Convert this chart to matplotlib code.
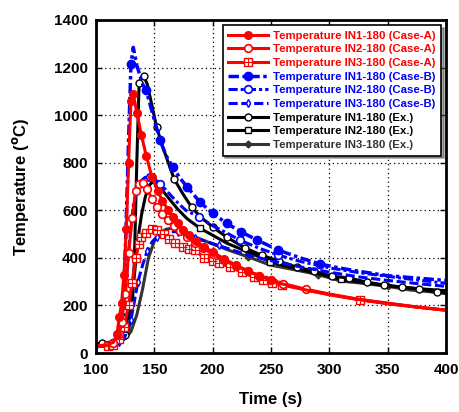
import matplotlib
matplotlib.use("Agg")
import matplotlib.pyplot as plt

plt.rcParams['font.family'] = ['Liberation Sans', 'DejaVu Sans']
plt.rcParams['font.weight'] = 'bold'

# ---- data (time s, temperature C) ----
t_a1 = [100, 105, 110, 115, 118, 120, 122, 124, 126, 128, 130, 132, 135, 139, 143, 148, 153, 157,
        162, 166, 170, 175, 180, 186, 193, 200, 210, 220, 230, 240, 250, 260, 280, 300, 325, 350, 375, 400]
T_a1 = [30, 32, 35, 45, 80, 150, 210, 330, 520, 800, 1060, 1090, 1010, 916, 830, 740, 680, 640,
        600, 573, 545, 517, 495, 470, 445, 425, 395, 370, 345, 325, 305, 290, 265, 245, 225, 210, 193, 180]

t_a2 = [100, 105, 110, 115, 120, 122, 125, 128, 131, 134, 137, 140, 144, 148, 152, 157, 162, 167,
        172, 178, 185, 192, 200, 210, 220, 230, 240, 250, 260, 280, 300, 325, 350, 375, 400]
T_a2 = [30, 30, 32, 40, 80, 130, 250, 420, 567, 680, 710, 714, 690, 647, 615, 584, 558, 535,
        512, 488, 462, 440, 415, 390, 365, 345, 325, 308, 292, 268, 248, 226, 208, 193, 180]

t_a3 = [100, 105, 110, 115, 120, 124, 128, 131, 134, 137, 139, 143, 148, 152, 158, 163, 168, 175,
        180, 185, 193, 200, 205, 215, 225, 235, 243, 251, 259, 270, 290, 310, 326, 350, 375, 400]
T_a3 = [28, 28, 30, 35, 60, 110, 200, 294, 400, 460, 487, 505, 521, 515, 500, 480, 462, 445,
        438, 432, 398, 385, 378, 361, 340, 319, 307, 294, 286, 275, 255, 237, 223, 207, 193, 180]

t_b1 = [100, 105, 110, 115, 119, 122, 125, 128, 130, 132, 135, 140, 143, 150, 155, 160, 166, 172,
        178, 189, 200, 212, 224, 238, 256, 275, 292, 310, 330, 350, 375, 400]
T_b1 = [30, 30, 32, 40, 55, 120, 400, 900, 1214, 1285, 1210, 1130, 1105, 980, 895, 830, 781, 735,
        699, 635, 587, 545, 510, 475, 433, 400, 374, 356, 340, 325, 315, 305]

t_b2 = [100, 105, 110, 115, 119, 123, 126, 129, 132, 135, 138, 142, 146, 150, 155, 160, 165, 170,
        177, 188, 200, 212, 223, 240, 256, 275, 300, 325, 350, 375, 400]
T_b2 = [30, 30, 32, 38, 55, 90, 300, 480, 620, 690, 720, 738, 740, 732, 712, 685, 658, 632,
        600, 573, 535, 505, 475, 440, 412, 385, 358, 338, 322, 307, 293]

t_b3 = [100, 105, 110, 115, 120, 125, 130, 133, 136, 140, 144, 148, 152, 156, 160, 165, 170, 175,
        185, 195, 205, 215, 230, 250, 275, 300, 325, 350, 375, 400]
T_b3 = [28, 28, 30, 35, 45, 70, 140, 220, 300, 370, 430, 466, 488, 500, 506, 510, 510, 500,
        483, 468, 452, 436, 412, 388, 362, 340, 320, 305, 292, 280]

t_e1 = [100, 105, 110, 115, 120, 125, 128, 131, 133, 135, 137, 139, 141, 144, 148, 152, 157, 162,
        167, 175, 182, 190, 200, 212, 228, 242, 257, 272, 287, 302, 317, 332, 347, 362, 377, 392, 400]
T_e1 = [40, 40, 40, 45, 55, 75, 100, 180, 400, 800, 1134, 1160, 1163, 1130, 1040, 949, 870, 800,
        731, 665, 613, 570, 530, 487, 441, 411, 386, 361, 344, 323, 315, 298, 286, 277, 269, 256, 252]

t_e2 = [100, 105, 110, 115, 120, 125, 128, 130, 133, 136, 139, 142, 145, 148, 152, 156, 160, 165,
        170, 178, 189, 200, 212, 225, 237, 249, 265, 280, 295, 310, 330, 350, 375, 400]
T_e2 = [38, 38, 40, 45, 60, 110, 160, 210, 330, 480, 580, 650, 700, 718, 712, 690, 665, 635,
        605, 565, 525, 495, 462, 435, 410, 384, 362, 345, 328, 311, 295, 283, 271, 262]

t_e3 = [100, 105, 110, 115, 120, 125, 130, 135, 140, 145, 150, 155, 160, 165, 170, 180, 190, 200,
        215, 230, 249, 270, 290, 310, 325, 350, 369, 385, 400]
T_e3 = [30, 30, 30, 35, 45, 60, 90, 160, 270, 400, 470, 505, 520, 525, 515, 498, 478, 458,
        430, 405, 370, 350, 330, 302, 295, 280, 265, 258, 250]

labels = ["Temperature IN1-180 (Case-A)", "Temperature IN2-180 (Case-A)", "Temperature IN3-180 (Case-A)",
          "Temperature IN1-180 (Case-B)", "Temperature IN2-180 (Case-B)", "Temperature IN3-180 (Case-B)",
          "Temperature IN1-180 (Ex.)", "Temperature IN2-180 (Ex.)", "Temperature IN3-180 (Ex.)"]

RED = '#ff0000'
BLUE = '#0000ff'
GRAY = '#333333'

fig = plt.figure(figsize=(4.59, 4.12), dpi=100)
ax = fig.add_axes([0.209, 0.1432, 0.763, 0.8083])

# experiments (black) first, simulations on top
h_e3, = ax.plot(t_e3, T_e3, color=GRAY, lw=2.2, marker='D', ms=3.5, mfc=GRAY, mec=GRAY,
                markevery=[19, 22, 25])
h_e2, = ax.plot(t_e2, T_e2, color='black', lw=2.2, marker='s', ms=5, mfc='white', mec='black',
                mew=1, markevery=[7, 20, 25, 29])
h_e1, = ax.plot(t_e1, T_e1, color='black', lw=2.2, marker='o', ms=5, mfc='white', mec='black',
                mew=1, markevery=[1, 5, 10, 12, 15, 18, 20, 22, 23, 24, 25, 26, 27, 28, 29, 30, 31, 32, 33, 34, 35])

h_b3, = ax.plot(t_b3, T_b3, color=BLUE, lw=2.2, ls=(0, (3, 1.2)), marker='d', ms=4,
                mfc='white', mec=BLUE, mew=1, markevery=list(range(0, 22, 2)))
h_b2, = ax.plot(t_b2, T_b2, color=BLUE, lw=2.2, ls=(0, (3, 1, 1, 1)), marker='o', ms=5.5,
                mfc='white', mec=BLUE, mew=1.2, markevery=[2, 4, 12, 14, 19, 22, 24])
h_b1, = ax.plot(t_b1, T_b1, color=BLUE, lw=2.5, ls=(0, (3, 1, 1, 1)), marker='o', ms=6,
                mfc=BLUE, mec=BLUE, markevery=[3, 8, 12, 14, 16, 18, 19, 20, 21, 22, 23, 24, 26])

h_a3, = ax.plot(t_a3, T_a3, color=RED, lw=2.2, marker='s', ms=6, mfc='white', mec=RED, mew=1,
                markevery=list(range(2, 29)) + [32])
h_a3p, = ax.plot(t_a3, T_a3, color=RED, lw=0, marker='+', ms=6, mec=RED, mew=0.8,
                 markevery=list(range(2, 29)) + [32])
h_a2, = ax.plot(t_a2, T_a2, color=RED, lw=2.2, marker='o', ms=5.5, mfc='white', mec=RED, mew=1.2,
                markevery=list(range(3, 30)))
h_a1, = ax.plot(t_a1, T_a1, color=RED, lw=2.2, marker='o', ms=5.5, mfc=RED, mec=RED,
                markevery=list(range(4, 31)))

ax.set_xlim(100, 400)
ax.set_ylim(0, 1400)
ax.set_xticks(range(100, 401, 50))
ax.set_yticks(range(0, 1401, 200))
ax.grid(True, color='black', ls=(0, (1, 2.5)), lw=0.9)
ax.tick_params(direction='in', top=True, right=True, length=4, width=1, labelsize=11)
ax.tick_params(axis='x', pad=7)
ax.tick_params(axis='y', pad=6)
for lab in ax.get_xticklabels() + ax.get_yticklabels():
    lab.set_fontweight('bold')
for sp in ax.spines.values():
    sp.set_linewidth(2)

ax.set_xlabel("Time (s)", fontsize=12, fontweight='bold', labelpad=11)
ax.set_ylabel("Temperature ($\\mathbf{^o}$C)", fontsize=12, fontweight='bold', labelpad=16)

handles = [h_a1, h_a2, (h_a3, h_a3p), h_b1, h_b2, h_b3, h_e1, h_e2, h_e3]
leg = ax.legend(handles, labels, loc='upper right', fontsize=8.2, handlelength=3.5,
                labelspacing=0.32, borderaxespad=0.45, fancybox=False, shadow=True,
                edgecolor='black', framealpha=1, handletextpad=0.4, borderpad=0.5)
leg.get_frame().set_linewidth(1.2)
text_colors = [RED, RED, RED, BLUE, BLUE, BLUE, 'black', 'black', GRAY]
for txt, c in zip(leg.get_texts(), text_colors):
    txt.set_color(c)
    txt.set_fontweight('bold')

fig.savefig("out.png", dpi=100)
